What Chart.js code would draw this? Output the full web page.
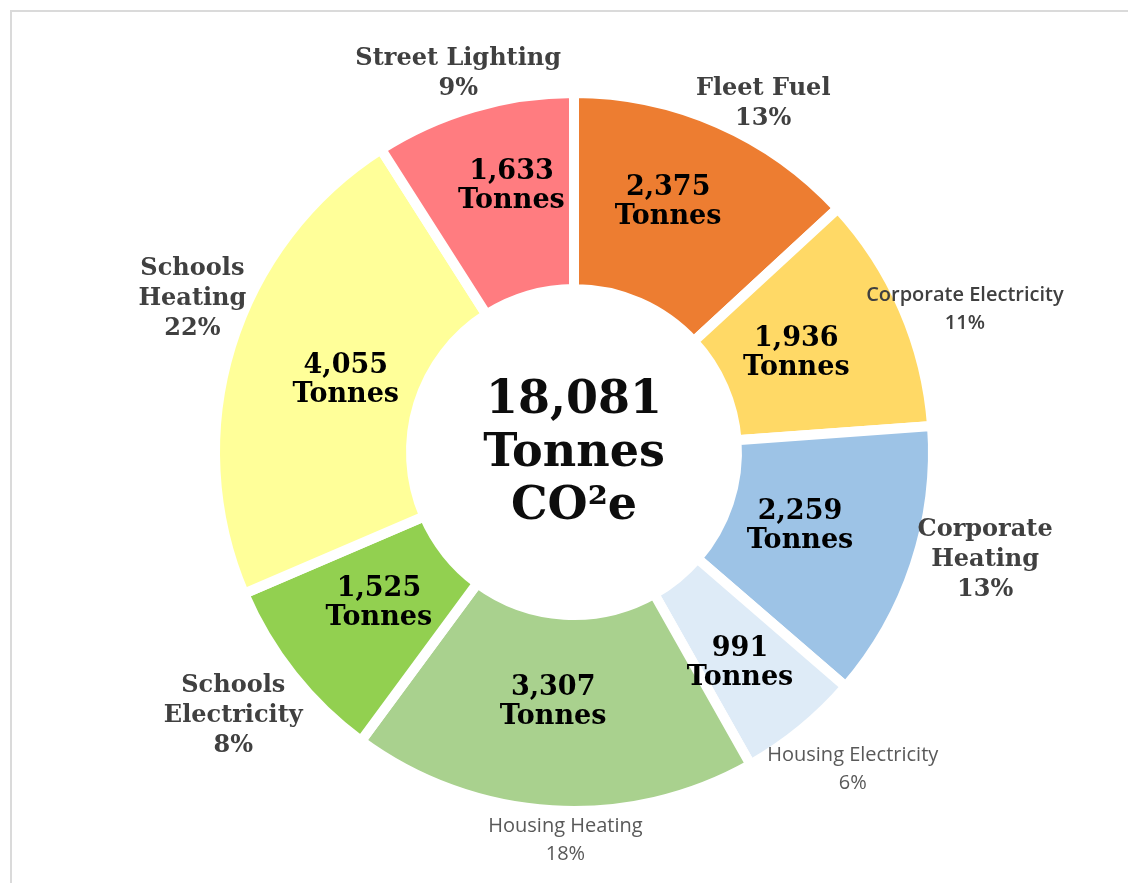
<!DOCTYPE html>
<html>
<head>
<meta charset="utf-8">
<title>Carbon emissions by source</title>
<script src="https://cdn.jsdelivr.net/npm/chart.js@4.4.1/dist/chart.umd.min.js"></script>
<style>
    html, body { margin: 0; padding: 0; background: #fff; overflow: hidden; }
    #frame { position: absolute; left: 10px; top: 10px; width: 1200px; height: 1000px;
             border-left: 2px solid #dadada; border-top: 2px solid #dadada; }
    #wrap { position: absolute; left: 0; top: 0; width: 1128px; height: 883px; }
</style>
</head>
<body>
<div id="frame"></div>
<div id="wrap"><canvas id="emissionsChart"></canvas></div>
<script>
// Data, clockwise from 12 o'clock
const categories = [
    ['Fleet Fuel'],
    ['Corporate Electricity'],
    ['Corporate', 'Heating'],
    ['Housing Electricity'],
    ['Housing Heating'],
    ['Schools', 'Electricity'],
    ['Schools', 'Heating'],
    ['Street Lighting']
];
const tonnes = [2375, 1936, 2259, 991, 3307, 1525, 4055, 1633];
const percentLabels = ['13%', '11%', '13%', '6%', '18%', '8%', '22%', '9%'];
const totalLabel = ['18,081', 'Tonnes', 'CO\u00b2e'];

const sliceColours = ['#ED7D31', '#FFD966', '#9DC3E6', '#DEEBF7', '#A9D18E', '#92D050', '#FFFF99', '#FF7C80'];
// 'serif' bold serif, 'sans' regular, 'sansBold'
const labelStyles = ['serif', 'sansBold', 'serif', 'sans', 'sans', 'serif', 'serif', 'serif'];
// label placement: [angle shift in degrees, distance as a fraction of the outer radius]
const innerLabelPlacement = [[-3.0, 0.744], [-0.4, 0.677], [0, 0.663], [1.2, 0.749],
                             [1.3, 0.699], [0.6, 0.688], [0.2, 0.666], [3.0, 0.76]];
const outerLabelPlacement = [[4.9, 1.103], [3.4, 1.159], [-3.6, 1.184], [-2.0, 1.176],
                             [-2.2, 1.081], [0.7, 1.2], [4.7, 1.145], [-0.75, 1.103]];

const SERIF = '"DejaVu Serif", Georgia, serif';
const SANS = '"Open Sans", "Noto Sans", sans-serif';

function drawLines(ctx, lines, x, y, lineHeight) {
    const top = y - (lines.length - 1) * lineHeight / 2;
    lines.forEach((line, i) => ctx.fillText(line, x, top + i * lineHeight));
}

function polarPoint(arc, place) {
    const angle = (arc.startAngle + arc.endAngle) / 2 + place[0] * Math.PI / 180;
    const r = arc.outerRadius * place[1];
    return { x: arc.x + r * Math.cos(angle), y: arc.y + r * Math.sin(angle) };
}

const labelPlugin = {
    id: 'sliceLabels',
    afterDatasetsDraw(chart) {
        const ctx = chart.ctx;
        const arcs = chart.getDatasetMeta(0).data;
        ctx.save();
        ctx.textAlign = 'center';
        ctx.textBaseline = 'middle';
        arcs.forEach((arc, i) => {
            // value inside the ring
            const p = polarPoint(arc, innerLabelPlacement[i]);
            ctx.fillStyle = '#000';
            ctx.font = 'bold 27px ' + SERIF;
            drawLines(ctx, [tonnes[i].toLocaleString('en-GB'), 'Tonnes'], p.x, p.y, 29);
            // category + share outside
            const q = polarPoint(arc, outerLabelPlacement[i]);
            const style = labelStyles[i];
            if (style === 'serif') {
                ctx.font = 'bold 24px ' + SERIF;
                ctx.fillStyle = '#404040';
            } else if (style === 'sansBold') {
                ctx.font = '600 20px ' + SANS;
                ctx.fillStyle = '#404040';
            } else {
                ctx.font = '20px ' + SANS;
                ctx.fillStyle = '#595959';
            }
            const lh = style === 'serif' ? 30 : 28;
            drawLines(ctx, categories[i].concat(percentLabels[i]), q.x, q.y, lh);
        });
        // total in the hole
        const cx = arcs[0].x, cy = arcs[0].y;
        ctx.fillStyle = '#0d0d0d';
        ctx.font = 'bold 46px ' + SERIF;
        drawLines(ctx, totalLabel, cx, cy + 2, 53);
        ctx.restore();
    }
};

document.addEventListener('DOMContentLoaded', () => {
    const ctx = document.getElementById('emissionsChart');
    new Chart(ctx, {
        type: 'doughnut',
        data: {
            labels: categories.map(c => c.join(' ')),
            datasets: [{
                data: tonnes,
                backgroundColor: sliceColours,
                borderColor: '#ffffff',
                borderWidth: 10,
                hoverOffset: 0
            }]
        },
        options: {
            responsive: true,
            maintainAspectRatio: false,
            animation: false,
            radius: 359,
            cutout: '45.4%',
            layout: { padding: { left: 20, right: 0, top: 21, bottom: 0 } },
            plugins: {
                legend: { display: false },
                tooltip: { enabled: false }
            }
        },
        plugins: [labelPlugin]
    });
});
</script>
</body>
</html>
